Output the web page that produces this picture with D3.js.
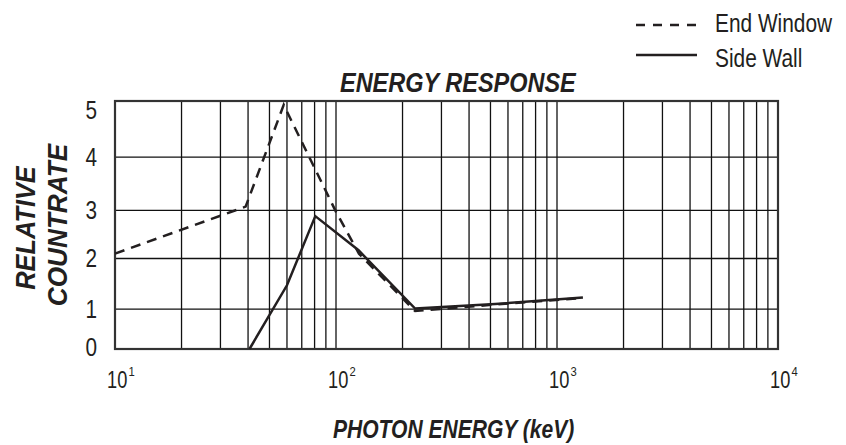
<!DOCTYPE html>
<html>
<head>
<meta charset="utf-8">
<script src="https://cdn.jsdelivr.net/npm/d3@7"></script>
<style>
  html, body { margin: 0; padding: 0; background: #fff; }
  svg { display: block; font-family: "Liberation Sans", Arial, sans-serif; }
</style>
</head>
<body>
<svg id="chart" width="846" height="445"></svg>
<script>
// ---- data ----
const xDecades = [10, 100, 1000, 10000];
const xDecadeExp = ["1", "2", "3", "4"];
const yTicks = [0, 1, 2, 3, 4, 5];

const endWindowEnergy = [10, 39, 58, 100, 127, 228, 525, 1300];
const endWindowRate   = [2.1, 3.07, 4.93, 2.97, 2.1, 0.95, 1.09, 1.22];

const sideWallEnergy = [40.6, 60, 80.6, 126.5, 228, 525, 1310];
const sideWallRate   = [0, 1.47, 2.88, 2.17, 1.01, 1.1, 1.23];

const titleText = "ENERGY RESPONSE";
const xLabelText = "PHOTON ENERGY (keV)";
const yLabelLines = ["RELATIVE", "COUNTRATE"];
const legendLabels = ["End Window", "Side Wall"];

// ---- layout ----
const ink = "#231f20";
const pLeft = 115, pRight = 778, pTop = 101, pBottom = 349;
const pH = pBottom - pTop;
const narrow = 0.83; // condensed typeface look

const svg = d3.select("#chart");

const x = d3.scaleLog().domain([10, 10000]).range([pLeft, pRight]);
// the original chart's vertical grid is not evenly spaced
const yFrac = [0, 0.161, 0.365, 0.559, 0.774, 1];
const y = d3.scaleLinear()
  .domain(yTicks)
  .range(yFrac.map(f => pBottom - f * pH));

// grid: vertical lines at 1..9 x decade
const minorVals = [];
for (let d = 10; d < 10000; d *= 10) {
  for (let k = 1; k <= 9; k++) minorVals.push(d * k);
}

const grid = svg.append("g");
grid.selectAll("line.v")
  .data(minorVals.filter(v => v > 10 && v < 10000))
  .join("line")
  .attr("class", "v")
  .attr("x1", d => x(d)).attr("x2", d => x(d))
  .attr("y1", pTop).attr("y2", pBottom)
  .attr("stroke", "#111").attr("stroke-width", 1.3);

grid.selectAll("line.h")
  .data(yTicks.filter(v => v > 0 && v < 5))
  .join("line")
  .attr("class", "h")
  .attr("x1", pLeft).attr("x2", pRight)
  .attr("y1", d => y(d)).attr("y2", d => y(d))
  .attr("stroke", "#111").attr("stroke-width", 1.3);

// frame
svg.append("rect")
  .attr("x", pLeft).attr("y", pTop)
  .attr("width", pRight - pLeft).attr("height", pBottom - pTop)
  .attr("fill", "none").attr("stroke", "#333").attr("stroke-width", 2.2);

// lines
const line = d3.line().x(d => x(d[0])).y(d => y(d[1]));

svg.append("path")
  .datum(d3.zip(endWindowEnergy, endWindowRate))
  .attr("d", line)
  .attr("fill", "none").attr("stroke", ink)
  .attr("stroke-width", 2.5)
  .attr("stroke-dasharray", "10,7");

svg.append("path")
  .datum(d3.zip(sideWallEnergy, sideWallRate))
  .attr("d", line)
  .attr("fill", "none").attr("stroke", ink)
  .attr("stroke-width", 2.5);

// helper for condensed text
function ntext(px, py, str, size, opts = {}) {
  const t = svg.append("text")
    .attr("transform", `translate(${px},${py})${opts.rotate ? " rotate(-90)" : ""} scale(${opts.sx || narrow},1)`)
    .attr("font-size", size)
    .attr("fill", ink)
    .attr("text-anchor", opts.anchor || "start")
    .text(str);
  if (opts.bold) t.attr("font-weight", "bold").attr("font-style", "italic");
  return t;
}

// y tick labels
yTicks.forEach(d => {
  let c = y(d);
  if (d === 5) c = pTop + 9;
  if (d === 0) c = pBottom - 2;
  ntext(97, c + 9, String(d), 25, { anchor: "end" });
});

// x tick labels (10^n)
xDecades.forEach((d, i) => {
  const px = x(d) - 8;
  ntext(px, 388, "10", 24, { sx: 0.76 });
  ntext(px + 21.5, 375.5, xDecadeExp[i], 12.5, { sx: 0.9 });
});

// title
ntext(340, 91.5, titleText, 27, { bold: true, sx: 0.87 });

// x label
ntext(333, 438, xLabelText, 26, { bold: true, sx: 0.81 });

// y label (two rotated lines)
const yLab = [
  { bx: 35, cy: 228, sx: 0.94 },
  { bx: 67, cy: 225, sx: 0.97 }
];
yLabelLines.forEach((t, i) => {
  ntext(yLab[i].bx, yLab[i].cy, t, 27, { bold: true, rotate: true, anchor: "middle", sx: yLab[i].sx });
});

// legend
const legend = [
  { label: legendLabels[0], dash: "9,8", ly: 25, ty: 31.5 },
  { label: legendLabels[1], dash: null, ly: 55, ty: 66.5 }
];
legend.forEach(L => {
  svg.append("line")
    .attr("x1", 636).attr("x2", 697)
    .attr("y1", L.ly).attr("y2", L.ly)
    .attr("stroke", ink).attr("stroke-width", 2.5)
    .attr("stroke-dasharray", L.dash);
  ntext(715, L.ty, L.label, 25, { sx: 0.835 });
});
</script>
</body>
</html>
